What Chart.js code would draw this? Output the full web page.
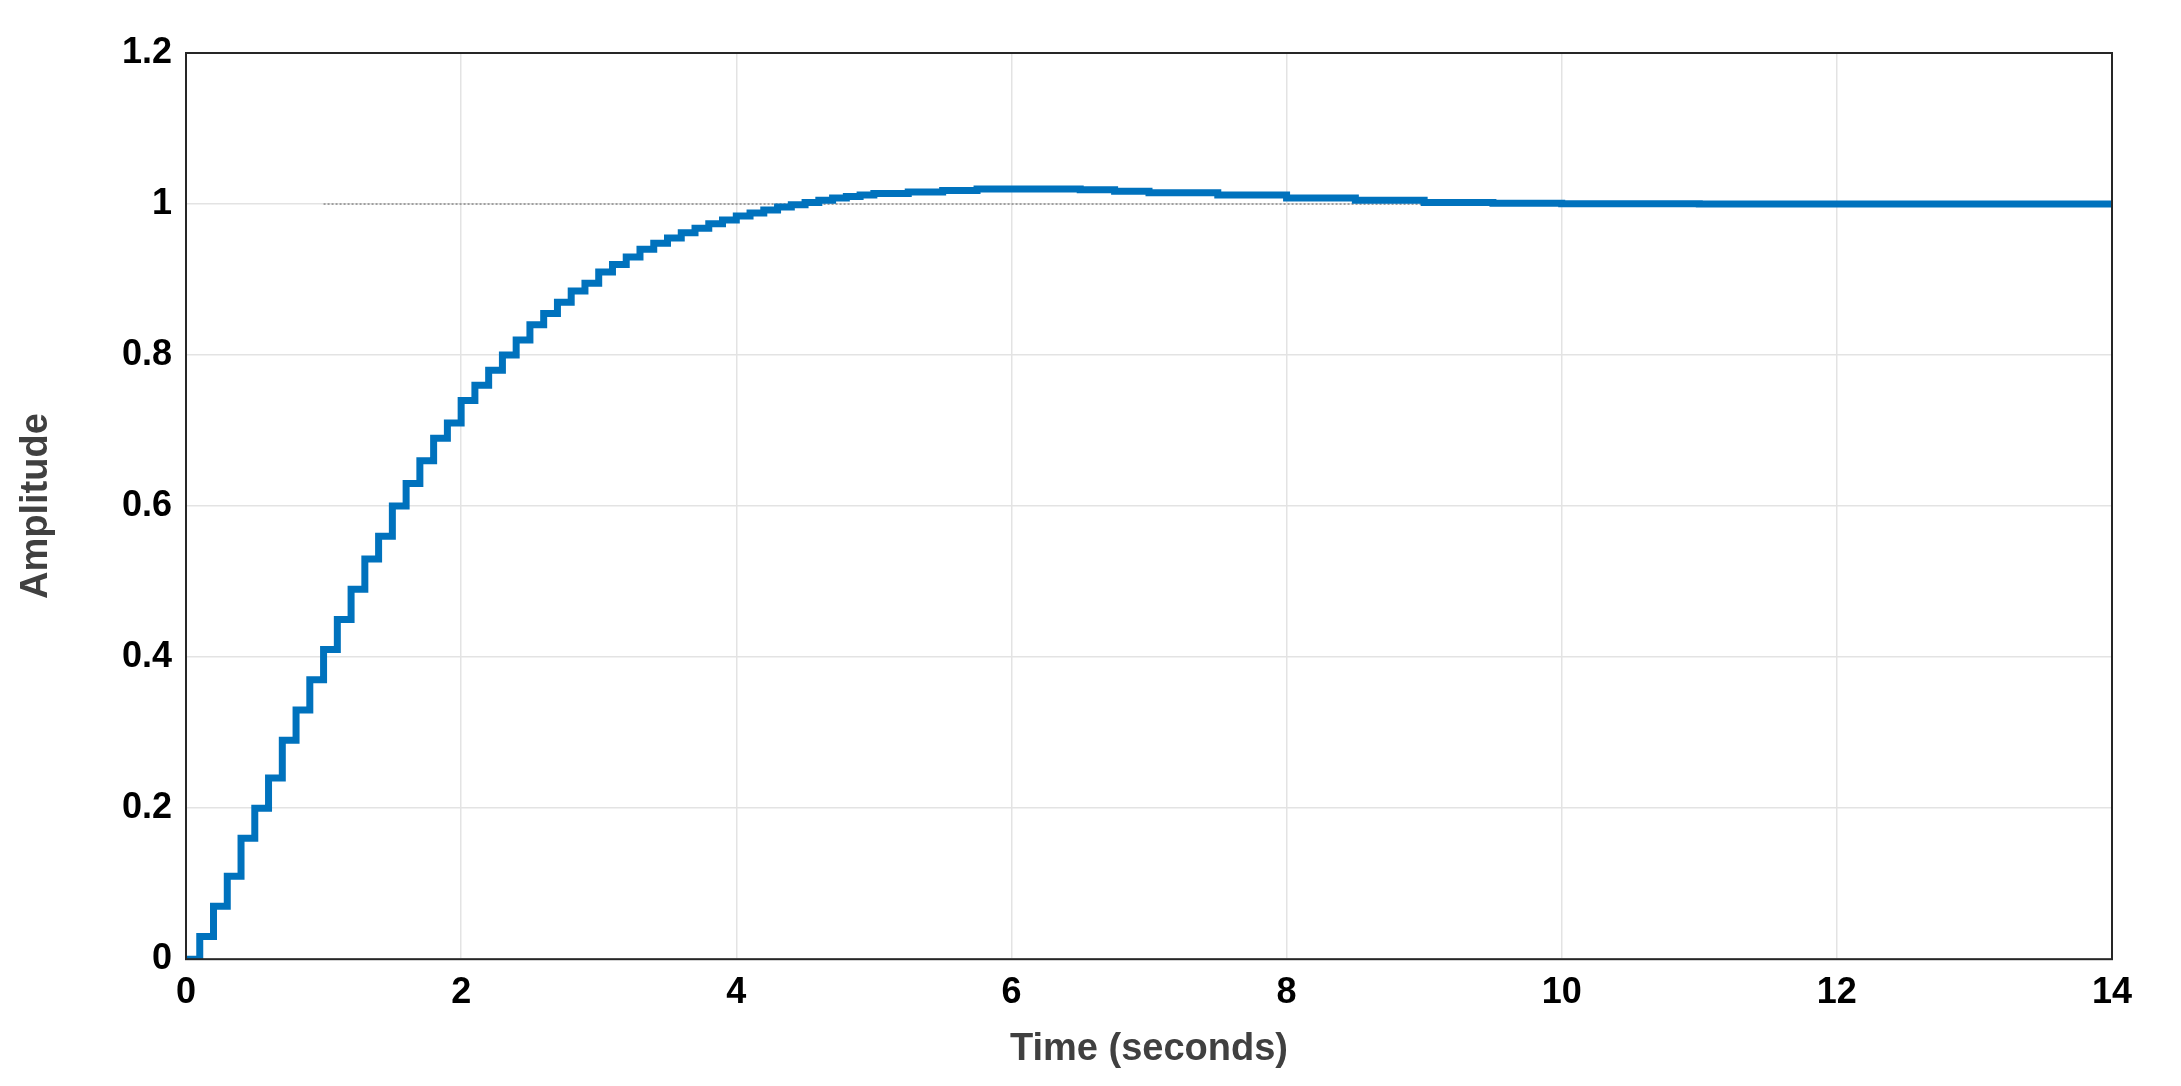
<!DOCTYPE html>
<html><head><meta charset="utf-8">
<script src="https://cdn.jsdelivr.net/npm/chart.js@4"></script>
<style>html,body{margin:0;padding:0;background:#fff}#w{width:2181px;height:1086px}</style>
</head><body><div id="w"><canvas id="c"></canvas></div>
<script>
const times = [0,0.1,0.2,0.3,0.4,0.5,0.6,0.7,0.8,0.9,1.0,1.1,1.2,1.3,1.4,1.5,1.6,1.7,1.8,1.9,2.0,2.1,2.2,2.3,2.4,2.5,2.6,2.7,2.8,2.9,3.0,3.1,3.2,3.3,3.4,3.5,3.6,3.7,3.8,3.9,4.0,4.1,4.2,4.3,4.4,4.5,4.6,4.7,4.8,4.9,5.0,5.25,5.5,5.75,6.0,6.25,6.5,6.75,7.0,7.5,8.0,8.5,9.0,9.5,10,11,12,13,14];
const amplitude = [0,0.03,0.07,0.11,0.16,0.2,0.24,0.29,0.33,0.37,0.41,0.45,0.49,0.53,0.56,0.6,0.63,0.66,0.69,0.71,0.74,0.76,0.78,0.8,0.82,0.84,0.855,0.87,0.885,0.895,0.91,0.92,0.93,0.94,0.948,0.955,0.962,0.968,0.974,0.979,0.984,0.988,0.992,0.996,0.999,1.002,1.005,1.008,1.01,1.012,1.014,1.016,1.018,1.02,1.02,1.02,1.019,1.017,1.015,1.012,1.008,1.005,1.002,1.001,1.0005,1.0,1.0,1.0,1.0];
const steadyX = [1,14];
const steadyY = [1,1];
const xTicks = [0,2,4,6,8,10,12,14];
const yTicks = [0,0.2,0.4,0.6,0.8,1,1.2];

const border = {id:'border',afterDraw(ch){const a=ch.chartArea,c=ch.ctx;c.save();c.strokeStyle='#262626';c.lineWidth=2;c.strokeRect(a.left,a.top,a.right-a.left,a.bottom-a.top);c.restore();}};
new Chart(document.getElementById('c'),{
 type:'line',
 data:{datasets:[
  {data:times.map((t,i)=>({x:t,y:amplitude[i]})),borderColor:'#0072BD',borderWidth:7,pointRadius:0,stepped:true,fill:false},
  {data:steadyX.map((t,i)=>({x:t,y:steadyY[i]})),borderColor:'#888',borderWidth:1.5,borderDash:[2,2],pointRadius:0}
 ]},
 plugins:[border],
 options:{responsive:true,maintainAspectRatio:false,animation:false,
  layout:{padding:{top:53,right:69,left:10,bottom:10}},
  plugins:{legend:{display:false},tooltip:{enabled:false}},
  scales:{
   x:{type:'linear',min:0,max:14,afterBuildTicks(s){s.ticks=xTicks.map(v=>({value:v}));},
    grid:{color:'#e3e3e3',lineWidth:1.5,drawTicks:false},border:{display:false},
    ticks:{color:'#000',font:{family:'Liberation Sans',size:36,weight:'bold'},padding:12,maxRotation:0},
    title:{display:true,text:'Time (seconds)',color:'#404040',font:{family:'Liberation Sans',size:38,weight:'bold'},padding:{top:0}}},
   y:{min:0,max:1.2,afterBuildTicks(s){s.ticks=yTicks.map(v=>({value:v}));},
    afterFit(s){s.width=176;},
    grid:{color:'#e3e3e3',lineWidth:1.5,drawTicks:false},border:{display:false},
    ticks:{color:'#000',font:{family:'Liberation Sans',size:36,weight:'bold'},padding:14,callback:v=>String(v)},
    title:{display:true,text:'Amplitude',color:'#404040',font:{family:'Liberation Sans',size:38,weight:'bold'},padding:{bottom:4}}}
  }}
});
</script></body></html>
